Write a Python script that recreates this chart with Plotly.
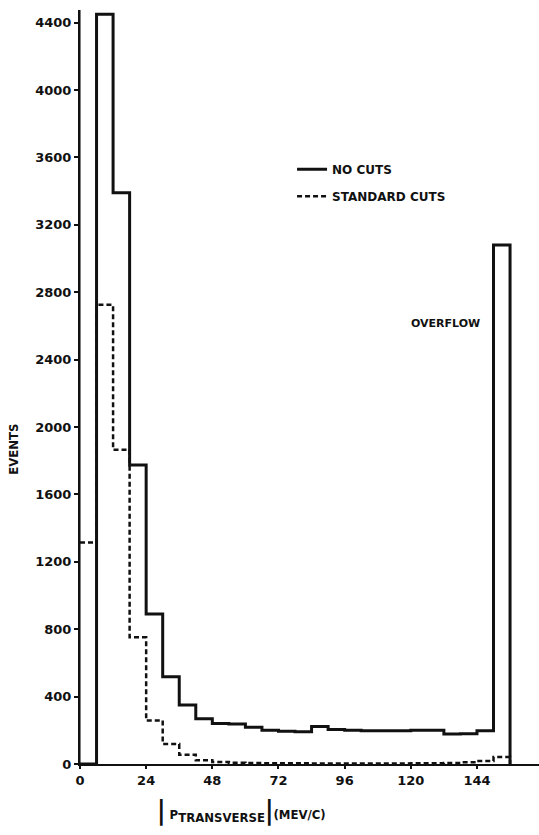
import plotly.graph_objects as go

# Histogram of |P_transverse| in 6 MeV/c bins; last bin (150-156) is the overflow bin
bin_edges = list(range(0, 162, 6))

no_cuts = [0, 4450, 3390, 1775, 890, 518, 350, 268, 240, 238, 218, 200, 195,
           192, 222, 205, 200, 198, 197, 198, 200, 200, 178, 180, 198, 3080]

standard_cuts = [1315, 2725, 1865, 752, 258, 118, 55, 22, 12, 8, 6, 5, 4,
                 4, 3, 3, 3, 3, 3, 3, 4, 4, 6, 10, 18, 42]

x_ticks = [0, 24, 48, 72, 96, 120, 144]
x_tick_labels = ["0", "24", "48", "72", "96", "120", "144"]
y_ticks = list(range(0, 4800, 400))
y_tick_labels = [str(v) for v in y_ticks]

BOLD = "DejaVu Sans"
COND = "DejaVu Sans Condensed"
INK = "#111111"


def step_xy(edges, counts):
    """Step outline: each count spans its bin, then the outline returns to zero."""
    xs = list(edges[:-1]) + [edges[-1]]
    ys = list(counts) + [0]
    return xs, ys


fig = go.Figure()

xs, ys = step_xy(bin_edges, no_cuts)
fig.add_trace(go.Scatter(
    x=xs, y=ys, mode="lines", line_shape="hv",
    line=dict(color=INK, width=3),
    name="NO CUTS", legendgroup="a",
))

xs, ys = step_xy(bin_edges, standard_cuts)
fig.add_trace(go.Scatter(
    x=xs, y=ys, mode="lines", line_shape="hv",
    line=dict(color=INK, width=2.5, dash="5px,3px"),
    name="STANDARD CUTS", legendgroup="b",
))

# Left spine of the frame, full height of the plot area (paper-referenced, unclipped)
fig.add_shape(
    type="line", xref="paper", yref="paper", x0=-0.001, x1=-0.001, y0=0, y1=1,
    line=dict(color=INK, width=2), layer="above",
)

fig.add_annotation(
    x=146, y=2617, xref="x", yref="y",
    text="OVERFLOW", showarrow=False, xanchor="right", yanchor="middle",
    font=dict(family=BOLD, size=11, color=INK, weight="bold"),
)

# Vertical axis title
fig.add_annotation(
    x=-0.144, y=0.418, xref="paper", yref="paper",
    text="EVENTS", textangle=-90, showarrow=False,
    xanchor="center", yanchor="middle",
    font=dict(family=COND, size=13, color=INK, weight="bold"),
)

# Horizontal axis title with tall absolute-value bars
fig.add_annotation(
    x=0.352, y=-0.062, xref="paper", yref="paper",
    text=("<span style='font-size:26px'>|</span> P"
          "<sub><span style='font-size:13px'>TRANSVERSE</span></sub>"
          "<span style='font-size:26px'>|</span>(MEV/C)"),
    showarrow=False, xanchor="center", yanchor="middle",
    font=dict(family=COND, size=13, color=INK, weight="bold"),
)

fig.update_layout(
    width=539, height=835,
    margin=dict(l=80, r=0, t=10, b=71),
    paper_bgcolor="white", plot_bgcolor="white",
    showlegend=True,
    legend=dict(
        x=0.462, y=0.808, xanchor="left", yanchor="top",
        bgcolor="rgba(0,0,0,0)", borderwidth=0,
        traceorder="grouped", tracegroupgap=8,
        font=dict(family=BOLD, size=12, color=INK, weight="bold"),
    ),
    xaxis=dict(
        range=[0, 166.5], showgrid=False, zeroline=False,
        showline=True, linecolor=INK, linewidth=2,
        tickmode="array", tickvals=x_ticks, ticktext=x_tick_labels,
        ticks="outside", ticklen=3, tickwidth=2, tickcolor=INK,
        tickfont=dict(family=BOLD, size=13, color=INK, weight="bold"),
    ),
    yaxis=dict(
        range=[0, 4475], showgrid=False, zeroline=False,
        showline=True, linecolor=INK, linewidth=2,
        tickmode="array", tickvals=y_ticks, ticktext=y_tick_labels,
        ticks="outside", ticklen=4, tickwidth=2, tickcolor=INK,
        tickfont=dict(family=BOLD, size=13, color=INK, weight="bold"),
    ),
)

fig.write_html("out.html")
